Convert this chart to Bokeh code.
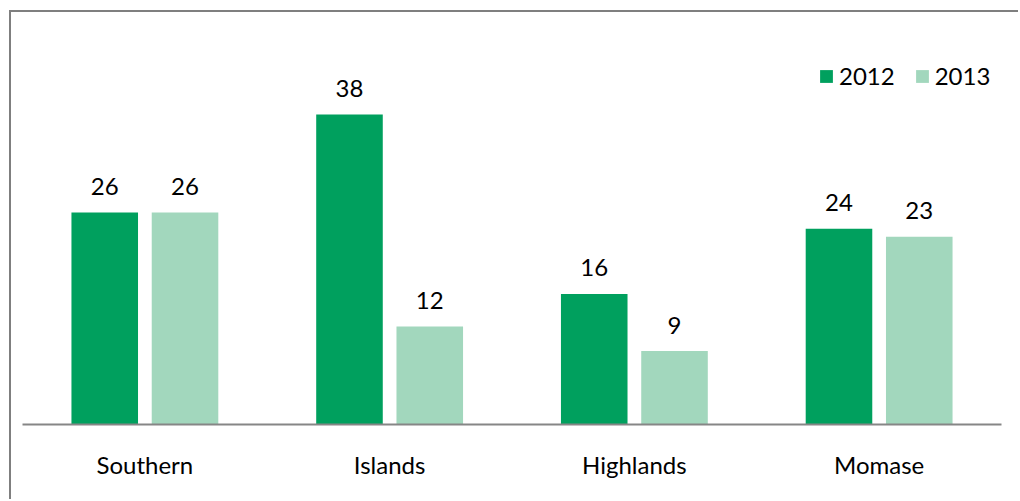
from bokeh.plotting import figure
from bokeh.models import ColumnDataSource, FactorRange, Legend, LegendItem
from bokeh.transform import dodge
from bokeh.core.properties import value
from bokeh.embed import file_html
from bokeh.resources import INLINE

regions = ["Southern", "Islands", "Highlands", "Momase"]
series_names = ["2012", "2013"]
values_2012 = [26, 38, 16, 24]
values_2013 = [26, 12, 9, 23]

colors = ["#00A05E", "#A2D7BD"]
FONT = "Lato"

src = ColumnDataSource(dict(
    region=regions,
    v2012=values_2012,
    v2013=values_2013,
    t2012=[str(v) for v in values_2012],
    t2013=[str(v) for v in values_2013],
))

p = figure(
    x_range=FactorRange(*regions, range_padding=0),
    y_range=(0, 47.07),
    width=1009, height=489,
    output_backend="svg", toolbar_location=None,
    min_border_left=11, min_border_right=19,
    min_border_top=28, min_border_bottom=77,
    styles={"border-left": "2px solid #7f7f7f", "border-top": "2px solid #7f7f7f",
            "margin-left": "9px", "margin-top": "10px"},
)
p.x_range.range_padding = 0

w = 0.272
off = 0.164
r1 = p.vbar(x=dodge("region", -off, range=p.x_range), top="v2012", width=w,
            source=src, fill_color=colors[0], line_color=None)
r2 = p.vbar(x=dodge("region", off, range=p.x_range), top="v2013", width=w,
            source=src, fill_color=colors[1], line_color=None)

for col, tcol, dx in (("v2012", "t2012", -off), ("v2013", "t2013", off)):
    p.text(x=dodge("region", dx, range=p.x_range), y=col, text=tcol, source=src,
           text_align="center", text_baseline="middle", y_offset=-26,
           text_font=value(FONT), text_font_size="24px", text_color="#000000")

p.yaxis.visible = False
p.xgrid.visible = False
p.ygrid.visible = False
p.outline_line_color = None

ax = p.xaxis[0]
ax.axis_line_color = "#868686"
ax.axis_line_width = 2
ax.major_tick_line_color = None
ax.minor_tick_line_color = None
ax.major_label_text_font = FONT
ax.major_label_text_font_size = "24px"
ax.major_label_text_color = "#000000"
ax.major_label_standoff = 19

legend = Legend(items=[LegendItem(label=series_names[0], renderers=[r1]),
                       LegendItem(label=series_names[1], renderers=[r2])],
                orientation="horizontal", location=(796, 334),
                glyph_width=16, glyph_height=16, label_standoff=5, spacing=19,
                padding=0, margin=0, border_line_color=None, background_fill_alpha=0,
                label_text_font=FONT, label_text_font_size="24px",
                label_text_color="#000000")
p.add_layout(legend)

open("out.html", "w").write(file_html(p, INLINE))
